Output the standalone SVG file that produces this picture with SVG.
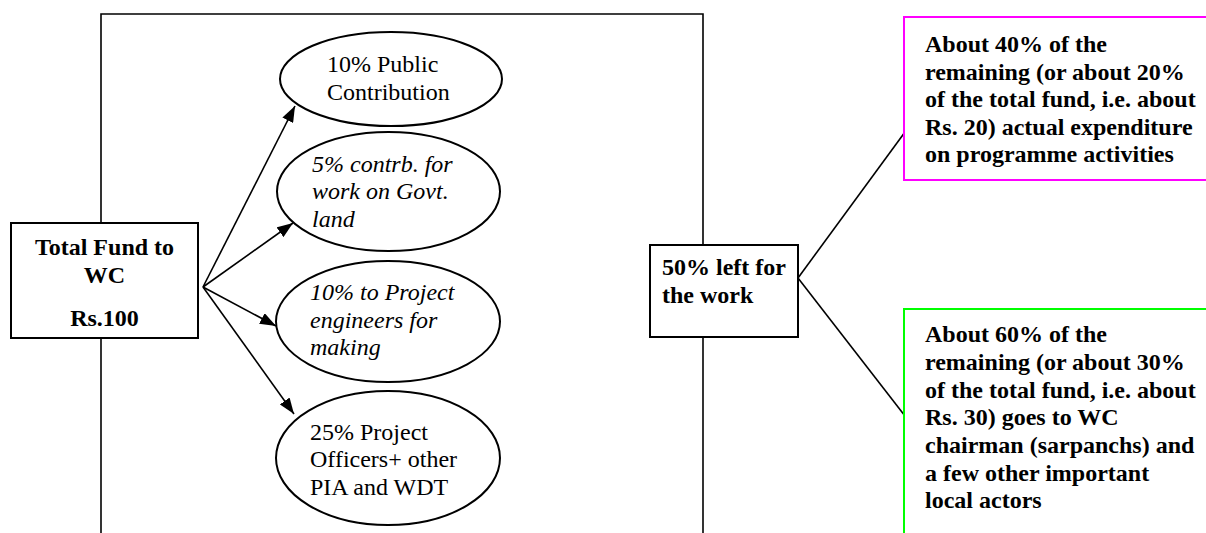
<svg xmlns="http://www.w3.org/2000/svg" width="1206" height="533" viewBox="0 0 1206 533">
<style>
.ln{stroke:#000;stroke-width:1.6;fill:none}
.box{fill:#fff;stroke:#000;stroke-width:2}
.ell{fill:#fff;stroke:#000;stroke-width:2}
.b{font-family:"Liberation Serif","Times New Roman",serif;font-size:24px;font-weight:bold;fill:#000}
.r{font-family:"Liberation Serif","Times New Roman",serif;font-size:24px;fill:#000}
.i{font-family:"Liberation Serif","Times New Roman",serif;font-size:24px;font-style:italic;fill:#000}
</style>
<defs>
<marker id="ah" markerWidth="10" markerHeight="8" refX="9" refY="4" orient="auto" markerUnits="userSpaceOnUse" viewBox="0 0 10 8">
<path d="M0,0 L10,4 L0,8 Z" fill="#000"/>
</marker>
<marker id="ah2" viewBox="0 0 16 12" refX="16" refY="6" markerWidth="16" markerHeight="12" orient="auto" markerUnits="userSpaceOnUse">
<path d="M0,0 L16,6 L0,12 Z" fill="#000"/>
</marker>
</defs>
<g id="connectors">
<polyline class="ln" points="101,223 101,14 703,14 703,245"/>
<line class="ln" x1="101" y1="338" x2="101" y2="533"/>
<line class="ln" x1="703" y1="337" x2="703" y2="533"/>
<line class="ln" x1="203" y1="287" x2="295" y2="106" marker-end="url(#ah2)"/>
<line class="ln" x1="203" y1="287" x2="293" y2="223" marker-end="url(#ah2)"/>
<line class="ln" x1="203" y1="287" x2="276" y2="326" marker-end="url(#ah2)"/>
<line class="ln" x1="203" y1="287" x2="294" y2="414" marker-end="url(#ah2)"/>
<line class="ln" x1="798" y1="278" x2="905" y2="132"/>
<line class="ln" x1="798" y1="278" x2="905" y2="416"/>
</g>
<g id="total-fund">
<rect class="box" x="11" y="223" width="187" height="115"/>
<text class="b" x="104.5" y="255" text-anchor="middle">Total Fund to</text>
<text class="b" x="104.5" y="283" text-anchor="middle">WC</text>
<text class="b" x="104.5" y="326" text-anchor="middle">Rs.100</text>
</g>
<g id="public-contribution">
<ellipse class="ell" cx="391" cy="79" rx="111" ry="47"/>
<text class="r" x="327" y="72">10% Public</text>
<text class="r" x="327" y="100">Contribution</text>
</g>
<g id="govt-land">
<ellipse class="ell" cx="388.5" cy="191.5" rx="111.5" ry="59.5"/>
<text class="i" x="312" y="172">5% contrb. for</text>
<text class="i" x="312" y="199">work on Govt.</text>
<text class="i" x="312" y="227">land</text>
</g>
<g id="project-engineers">
<ellipse class="ell" cx="388" cy="321.5" rx="112" ry="60.5"/>
<text class="i" x="310" y="300">10% to Project</text>
<text class="i" x="310" y="328">engineers for</text>
<text class="i" x="310" y="355">making</text>
</g>
<g id="project-officers">
<ellipse class="ell" cx="388" cy="458" rx="112" ry="67"/>
<text class="r" x="310" y="440">25% Project</text>
<text class="r" x="310" y="467">Officers+ other</text>
<text class="r" x="310" y="495">PIA and WDT</text>
</g>
<g id="left-for-work">
<rect class="box" x="650" y="245" width="148" height="92"/>
<text class="b" x="662" y="275">50% left for</text>
<text class="b" x="662" y="303">the work</text>
</g>
<g id="programme-activities">
<rect x="904" y="17" width="320" height="163" fill="#fff" stroke="#ff00ff" stroke-width="2"/>
<text class="b" x="925" y="52">About 40% of the</text>
<text class="b" x="925" y="79.5">remaining (or about 20%</text>
<text class="b" x="925" y="107">of the total fund, i.e. about</text>
<text class="b" x="925" y="134.5">Rs. 20) actual expenditure</text>
<text class="b" x="925" y="162">on programme activities</text>
</g>
<g id="wc-chairman">
<rect x="904" y="309" width="320" height="240" fill="#fff" stroke="#00ff00" stroke-width="2"/>
<text class="b" x="925" y="342">About 60% of the</text>
<text class="b" x="925" y="370">remaining (or about 30%</text>
<text class="b" x="925" y="397.5">of the total fund, i.e. about</text>
<text class="b" x="925" y="425">Rs. 30) goes to WC</text>
<text class="b" x="925" y="453">chairman (sarpanchs) and</text>
<text class="b" x="925" y="480.5">a few other important</text>
<text class="b" x="925" y="508">local actors</text>
</g>
</svg>
